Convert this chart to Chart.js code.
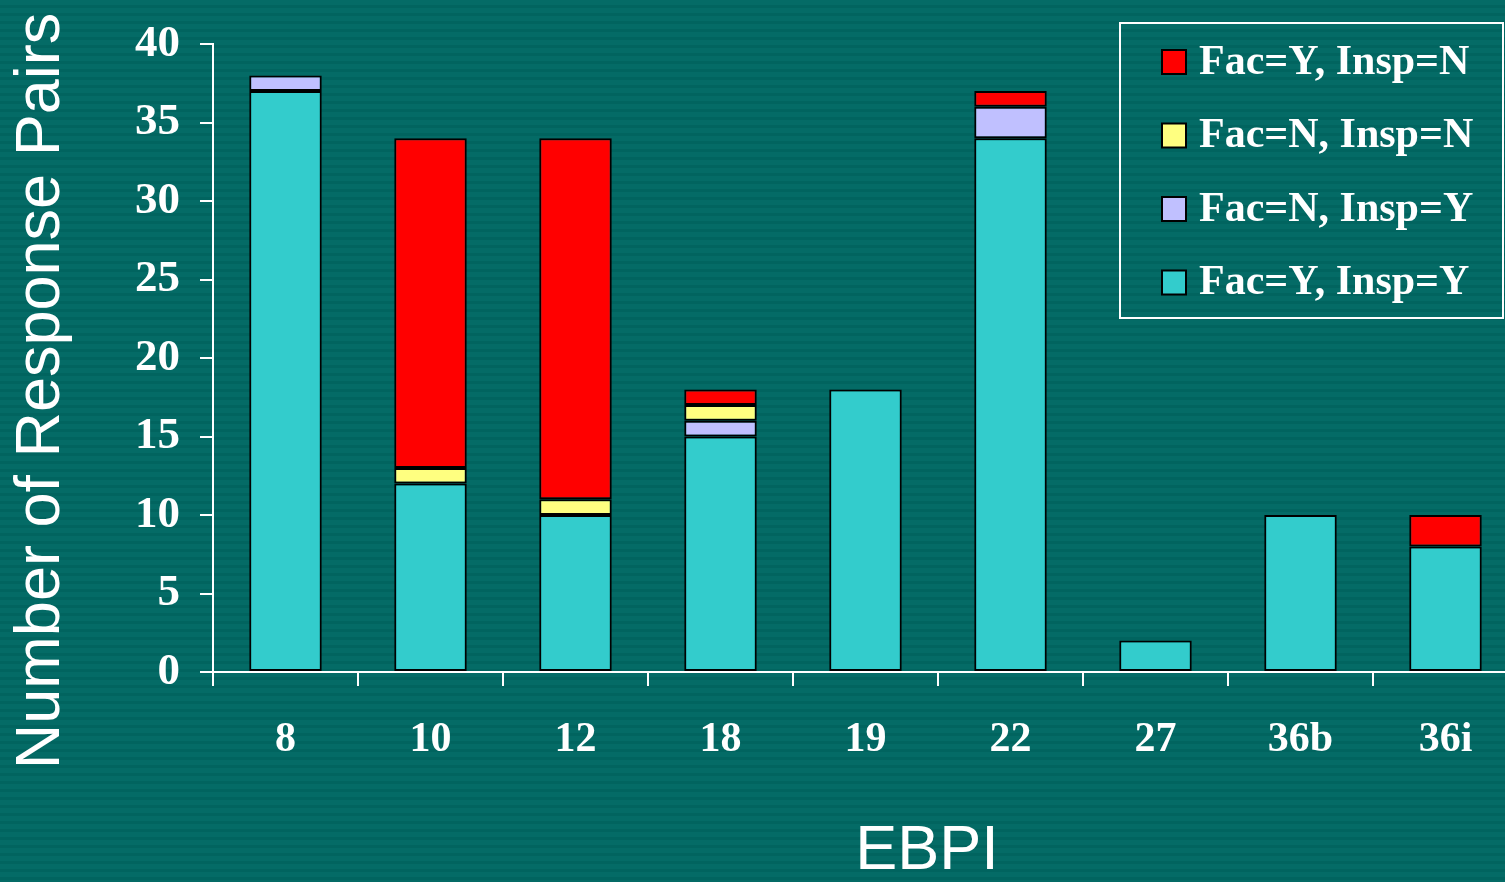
<!DOCTYPE html>
<html>
<head>
<meta charset="utf-8">
<script src="https://cdn.jsdelivr.net/npm/chart.js@4/dist/chart.umd.min.js"></script>
<style>
  html, body { margin: 0; padding: 0; background: #036964; overflow: hidden; }
  #wrap { width: 1505px; height: 882px;
    background: repeating-linear-gradient(180deg, #046b66 0px, #046b66 5px, #01645f 5px, #01645f 8px); }
  canvas { display: block; }
</style>
</head>
<body>
<div id="wrap"><canvas id="c" width="1505" height="882"></canvas></div>
<script>
const categories = ['8', '10', '12', '18', '19', '22', '27', '36b', '36i'];
const facYInspY = [37, 12, 10, 15, 18, 34, 2, 10, 8];
const facNInspY = [1, 0, 0, 1, 0, 2, 0, 0, 0];
const facNInspN = [0, 1, 1, 1, 0, 0, 0, 0, 0];
const facYInspN = [0, 21, 23, 1, 0, 1, 0, 0, 2];
const yTicks = [0, 5, 10, 15, 20, 25, 30, 35, 40];

const seriesLabels = ['Fac=Y, Insp=Y', 'Fac=N, Insp=Y', 'Fac=N, Insp=N', 'Fac=Y, Insp=N'];
const seriesColors = ['#33CCCC', '#C0C0FF', '#FFFF80', '#FF0000'];
const seriesData = [facYInspY, facNInspY, facNInspN, facYInspN];

const serif = "'Liberation Serif', 'Times New Roman', serif";
const sans = "'Liberation Sans', Arial, sans-serif";

// plot area of the reference (the last category runs past the right edge)
const AREA = { left: 213, top: 44, right: 1518, bottom: 672 };

const fixArea = {
  id: 'fixArea',
  afterLayout(chart) {
    const ca = chart.chartArea;
    ca.left = AREA.left; ca.top = AREA.top; ca.right = AREA.right; ca.bottom = AREA.bottom;
    ca.width = ca.right - ca.left; ca.height = ca.bottom - ca.top;
    const x = chart.scales.x, y = chart.scales.y;
    x.left = AREA.left; x.right = AREA.right; x.width = AREA.right - AREA.left;
    x.top = AREA.bottom; x.bottom = chart.height; x.height = x.bottom - x.top;
    y.top = AREA.top; y.bottom = AREA.bottom; y.height = AREA.bottom - AREA.top;
    y.right = AREA.left; y.left = 0; y.width = AREA.left;
    x.configure(); y.configure();
  }
};

const overlay = {
  id: 'overlay',
  afterDraw(chart) {
    const ctx = chart.ctx;
    ctx.save();
    ctx.fillStyle = '#FFFFFF';
    ctx.font = '63px ' + sans;
    ctx.textAlign = 'center';
    ctx.textBaseline = 'middle';
    ctx.save();
    ctx.translate(42, 391);
    ctx.rotate(-Math.PI / 2);
    ctx.fillText('Number of Response Pairs', 0, 0);
    ctx.restore();
    ctx.fillText('EBPI', 927, 852);

    ctx.strokeStyle = '#FFFFFF';
    ctx.lineWidth = 2;
    ctx.strokeRect(1120, 23, 383, 295);
    const ds = chart.data.datasets.slice().reverse();
    ctx.font = 'bold 42px ' + serif;
    ctx.textAlign = 'left';
    ctx.textBaseline = 'middle';
    ds.forEach((d, i) => {
      const cy = 62 + i * 73.5;
      ctx.fillStyle = d.backgroundColor;
      ctx.fillRect(1162, cy - 12, 24, 24);
      ctx.strokeStyle = '#000000';
      ctx.lineWidth = 2;
      ctx.strokeRect(1162, cy - 12, 24, 24);
      ctx.fillStyle = '#FFFFFF';
      ctx.fillText(d.label, 1199, cy + 1);
    });
    ctx.restore();
  }
};

new Chart(document.getElementById('c'), {
  type: 'bar',
  data: {
    labels: categories,
    datasets: seriesLabels.map((lab, i) => ({
      label: lab,
      data: seriesData[i],
      backgroundColor: seriesColors[i],
      borderColor: '#000000',
      borderWidth: 2,
      borderSkipped: false,
      barPercentage: 0.5,
      categoryPercentage: 1.0
    }))
  },
  options: {
    responsive: false,
    devicePixelRatio: 1,
    animation: false,
    layout: { padding: { left: 0, top: 44, right: 0, bottom: 0 } },
    plugins: { legend: { display: false }, tooltip: { enabled: false }, title: { display: false } },
    scales: {
      x: {
        stacked: true,
        afterFit(s) { s.height = 210; },
        grid: { offset: true, drawOnChartArea: false, drawTicks: true, tickLength: 14, color: '#FFFFFF', lineWidth: 2 },
        border: { display: true, color: '#FFFFFF', width: 2 },
        ticks: { color: '#FFFFFF', font: { family: serif, size: 42, weight: 'bold' }, padding: 29, maxRotation: 0 }
      },
      y: {
        stacked: true,
        min: 0,
        max: 40,
        afterFit(s) { s.width = 213; },
        afterBuildTicks(s) { s.ticks = yTicks.map(v => ({ value: v })); },
        grid: { drawOnChartArea: false, drawTicks: true, tickLength: 13, color: '#FFFFFF', lineWidth: 2 },
        border: { display: true, color: '#FFFFFF', width: 2 },
        ticks: { color: '#FFFFFF', font: { family: serif, size: 45, weight: 'bold' }, padding: 20 }
      }
    }
  },
  plugins: [fixArea, overlay]
});
</script>
</body>
</html>
